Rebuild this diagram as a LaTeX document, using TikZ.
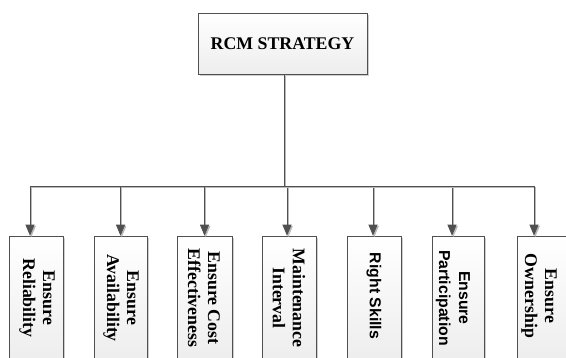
\documentclass[tikz,border=0pt]{standalone}
\usepackage{fontspec}
\setmainfont{Liberation Serif}
\newfontfamily\sansf{Liberation Sans}
\usetikzlibrary{arrows.meta,shadows}
\definecolor{edgec}{RGB}{80,80,80}
\definecolor{shadc}{RGB}{185,185,185}
\tikzset{
  boxst/.style={draw=edgec, line width=0.6pt, top color=white, bottom color=black!7,
     drop shadow={shadow xshift=1.6pt, shadow yshift=-1.6pt, fill=shadc, opacity=0.7},
     inner sep=0pt},
  txt/.style={font=\bfseries\fontsize{17.8}{20}\selectfont, align=center, inner sep=0pt},
  stxt/.style={font=\sansf\bfseries\fontsize{15.8}{20}\selectfont, align=center, inner sep=0pt},
  conn/.style={draw=edgec, line width=0.7pt,
     preaction={draw=shadc, line width=0.8pt, transform canvas={xshift=1.3pt,yshift=-1.3pt}}},
  arr/.style={conn, -{Triangle[length=11pt,width=9pt]}},
}
\begin{document}
\begin{tikzpicture}[x=1pt,y=-1pt]
\useasboundingbox (0,0) rectangle (566,358);
\clip (0,0) rectangle (566,358);
% top box
\node[boxst, minimum width=169pt, minimum height=61pt] (top) at (282.5,43.5) {};
\node[txt] (toptxt) at (top) {RCM STRATEGY};
% bottom boxes
\node[boxst, minimum width=54pt, minimum height=126pt] (b1) at (36,299) {};
\node[boxst, minimum width=53pt, minimum height=126pt] (b2) at (120.5,299) {};
\node[boxst, minimum width=55pt, minimum height=126pt] (b3) at (204.5,299) {};
\node[boxst, minimum width=54pt, minimum height=126pt] (b4) at (289,299) {};
\node[boxst, minimum width=54pt, minimum height=126pt] (b5) at (374,299) {};
\node[boxst, minimum width=52pt, minimum height=126pt] (b6) at (458,299) {};
\node[boxst, minimum width=54pt, minimum height=126pt] (b7) at (544,299) {};
% texts
\node[txt, rotate=-90] (t1) at (37,298) {Ensure\\Reliability};
\node[txt, rotate=-90] (t2) at (121,298) {Ensure\\Availability};
\node[txt, rotate=-90] (t3) at (204,298) {Ensure Cost\\Effectiveness};
\node[txt, rotate=-90] (t4) at (289,298) {Maintenance\\Interval};
\node[stxt, rotate=-90] (t5) at (374,296) {Right Skills};
\node[stxt, rotate=-90] (t6) at (453,298) {Ensure\\Participation};
\node[txt, rotate=-90] (t7) at (539,296) {Ensure\\Ownership};
% connectors
\coordinate (bar) at (284,186);
\draw[conn] (top.south -| bar) -- (bar);
\draw[arr] (bar) -| ([xshift=-6pt]b1.north);
\draw[arr] (bar) -| (b2.north);
\draw[arr] (bar) -| (b3.north);
\draw[arr] (bar) -| ([xshift=-2pt]b4.north);
\draw[arr] (bar) -| ([xshift=-1pt]b5.north);
\draw[arr] (bar) -| ([xshift=-6pt]b6.north);
\draw[arr] (bar) -| ([xshift=-10pt]b7.north);
\end{tikzpicture}
\end{document}
